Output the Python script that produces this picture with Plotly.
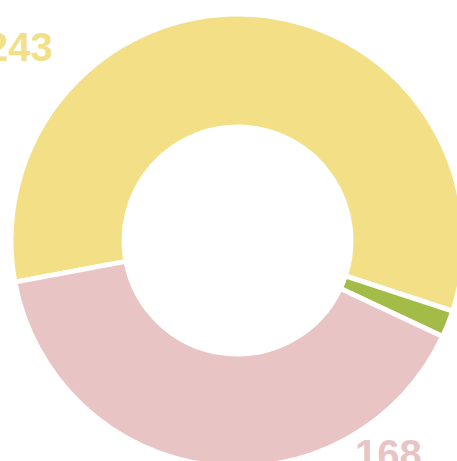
import plotly.graph_objects as go

# Data
categories = ["A", "B", "C"]
values = [243, 8, 168]
colors = ["#f3df85", "#a3bb47", "#e8c4c4"]
label_text = ["243", "", "168"]

# Label anchor positions (paper coords) for the visible labels
label_x = [0.0421, None, 0.8189]
label_y = [0.9023, None, 0.0561]

W, H = 475, 481

fig = go.Figure(
    go.Pie(
        labels=categories,
        values=values,
        sort=False,
        direction="clockwise",
        rotation=-100.6,
        hole=0.501,
        marker=dict(colors=colors, line=dict(color="white", width=5)),
        textinfo="none",
        hoverinfo="skip",
        showlegend=False,
        domain=dict(x=[11 / W, 464 / W], y=[1 - 467 / H, 1 - 14 / H]),
    )
)

annotations = []
for t, x, y, c in zip(label_text, label_x, label_y, colors):
    if not t:
        continue
    annotations.append(
        dict(
            text=t, x=x, y=y, xref="paper", yref="paper",
            xanchor="center", yanchor="middle", showarrow=False,
            font=dict(family="Liberation Sans, Arial, sans-serif", size=40, color=c, weight="bold"),
        )
    )

fig.update_layout(
    width=W, height=H,
    margin=dict(l=0, r=0, t=0, b=0),
    paper_bgcolor="white", plot_bgcolor="white",
    annotations=annotations,
)

fig.write_html(
    "out.html",
    config={"displayModeBar": False},
    post_script="document.body.style.margin='0';document.body.style.overflow='hidden';document.documentElement.style.overflow='hidden';",
)
